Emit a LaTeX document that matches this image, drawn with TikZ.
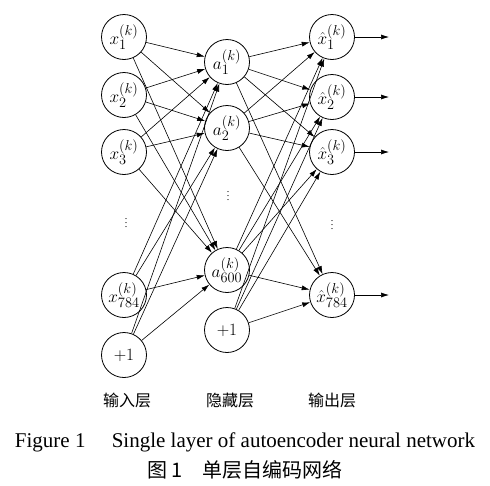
\documentclass[tikz,border=0pt]{standalone}
\usepackage{fontspec}
\setmainfont{Liberation Serif}
\newfontfamily\cjk{Noto Sans CJK SC}
\usetikzlibrary{arrows.meta}

\begin{document}
\begin{tikzpicture}[x=1pt, y=-1pt,
  neuron/.style={circle, draw, line width=0.8pt, minimum size=45pt, inner sep=0pt,
                 font=\fontsize{19}{22}\selectfont},
  conn/.style={-{Latex[length=8pt,width=5pt]}, line width=0.6pt},
  dots/.style={inner sep=0pt, font=\fontsize{10}{11}\selectfont},
  lab/.style={font=\cjk\fontsize{16}{18}\selectfont}]
\useasboundingbox (0,0) rectangle (490,485);

% ── couche d'entrée ──
\node[neuron] (x1) at (124,37)  {$x_1^{(k)}$};
\node[neuron] (x2) at (124,95)  {$x_2^{(k)}$};
\node[neuron] (x3) at (124,152) {$x_3^{(k)}$};
\node[dots]   (xd) at (126,220) {$\vdots$};
\node[neuron] (x4) at (124,295) {$x_{784}^{(k)}$};
\node[neuron] (xb) at (124,355) {$+1$};

% ── couche cachée ──
\node[neuron] (a1) at (227,62)  {$a_1^{(k)}$};
\node[neuron] (a2) at (227,128) {$a_2^{(k)}$};
\node[dots]   (ad) at (228,193) {$\vdots$};
\node[neuron] (a3) at (227,270) {$a_{600}^{(k)}$};
\node[neuron] (ab) at (227,330) {$+1$};

% ── couche de sortie ──
\node[neuron] (y1) at (332,37)  {$\hat{x}_1^{(k)}$};
\node[neuron] (y2) at (332,97)  {$\hat{x}_2^{(k)}$};
\node[neuron] (y3) at (332,152) {$\hat{x}_3^{(k)}$};
\node[dots]   (yd) at (332,222) {$\vdots$};
\node[neuron] (y4) at (332,295) {$\hat{x}_{784}^{(k)}$};

\coordinate (o1) at (389,37);
\coordinate (o2) at (389,97);
\coordinate (o3) at (389,152);
\coordinate (o4) at (389,295);

% ── connexions ──
\foreach \s in {x1,x2,x3,x4,xb}
  \foreach \t in {a1,a2,a3}
    \draw[conn] (\s) -- (\t);
\foreach \s in {a1,a2,a3,ab}
  \foreach \t in {y1,y2,y3,y4}
    \draw[conn] (\s) -- (\t);
\foreach \i in {1,2,3,4}
  \draw[conn] (y\i) -- (o\i);

% ── légendes ──
\node[lab] (lin)  at (127,400) {输入层};
\node[lab] (lhid) at (230,400) {隐藏层};
\node[lab] (lout) at (332,400) {输出层};

\node[font=\fontsize{21}{24}\selectfont] (cap1) at (245,442)
  {Figure 1\quad\ Single layer of autoencoder neural network};
\node[font=\cjk\fontsize{20}{24}\selectfont] (cap2) at (245,470)
  {图 1\quad 单层自编码网络};

\end{tikzpicture}
\end{document}
